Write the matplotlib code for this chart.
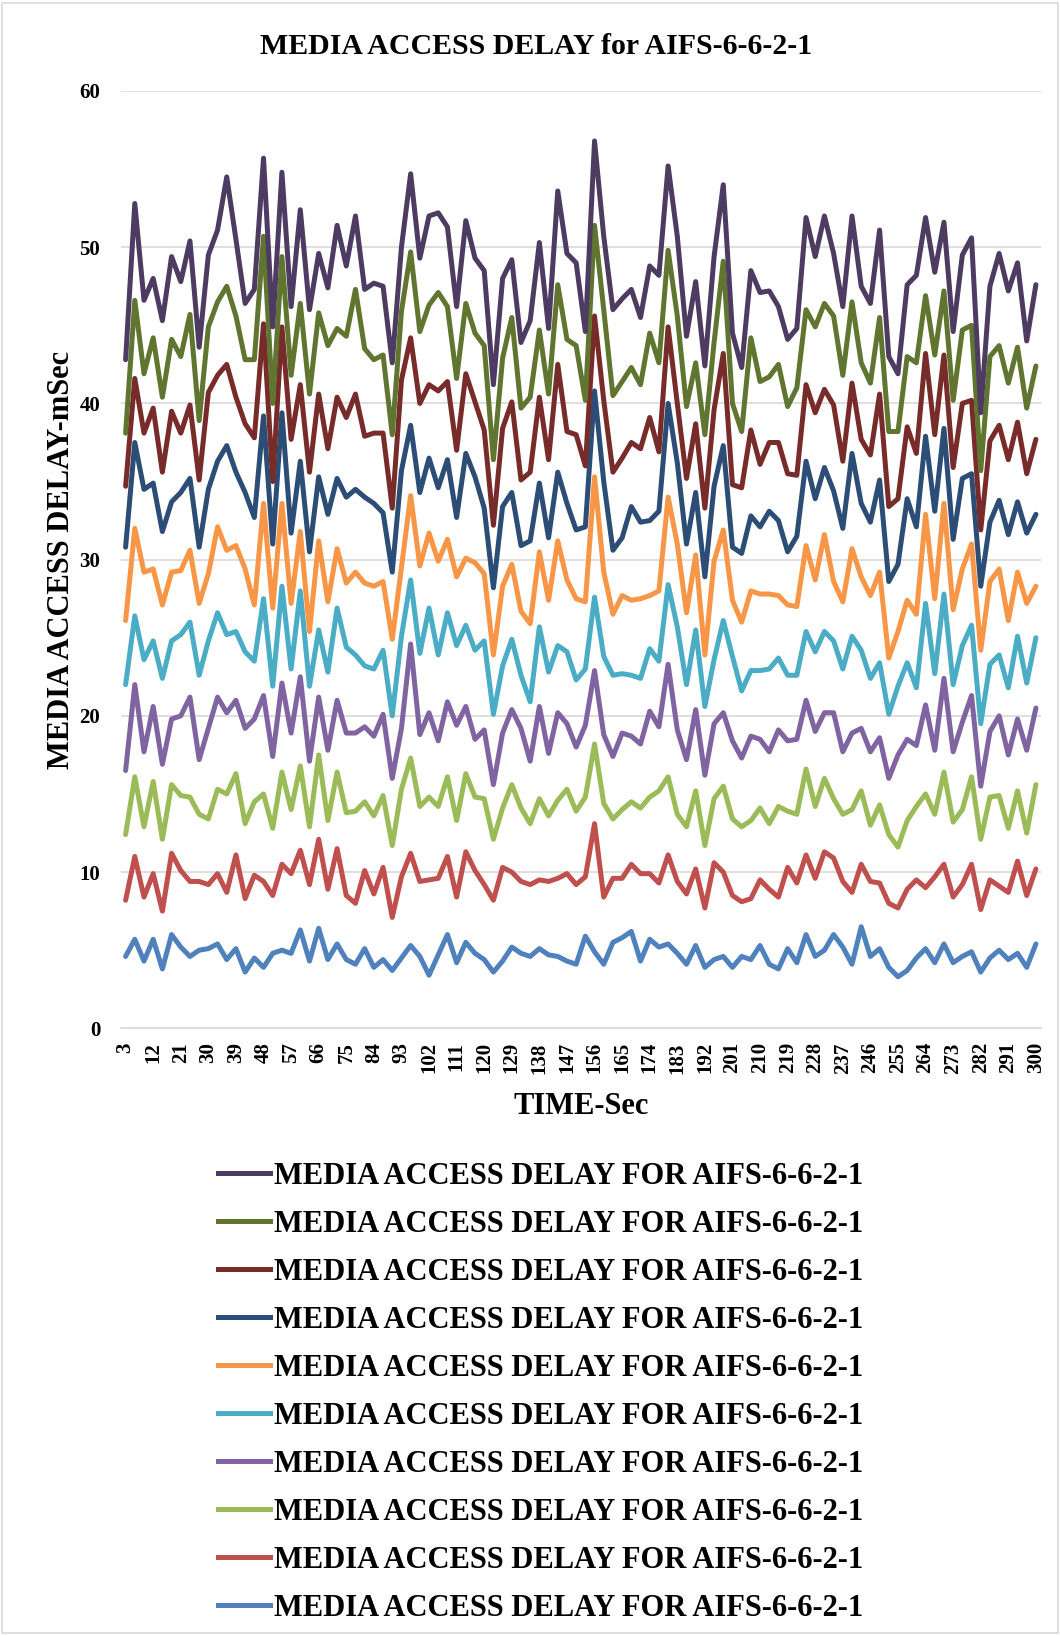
import matplotlib
matplotlib.use("Agg")
import matplotlib.pyplot as plt
from matplotlib.lines import Line2D
import numpy as np

plt.rcParams['font.family'] = ['Liberation Serif', 'DejaVu Serif']
plt.rcParams['font.weight'] = 'bold'

time_sec = list(range(3, 301, 3))
label = "MEDIA ACCESS DELAY FOR AIFS-6-6-2-1"

s_dpurple = [42.8,52.8,46.6,48.0,45.3,49.4,47.8,50.4,43.6,49.5,
 51.1,54.5,50.5,46.4,47.3,55.7,44.9,54.8,46.2,52.4,
 46.0,49.6,47.4,51.4,48.8,52.0,47.3,47.7,47.5,42.6,
 50.0,54.7,49.3,52.0,52.2,51.3,46.2,51.7,49.3,48.5,
 41.2,48.0,49.2,43.9,45.3,50.3,44.8,53.6,49.6,49.0,
 44.6,56.8,50.7,46.0,46.7,47.3,45.5,48.8,48.2,55.2,
 50.7,44.3,47.8,42.4,49.4,54.0,44.5,42.3,48.5,47.1,
 47.2,46.2,44.1,44.8,51.9,49.4,52.0,49.6,46.2,52.0,
 47.5,46.4,51.1,43.0,41.9,47.6,48.2,51.9,48.4,51.6,
 44.6,49.5,50.6,39.4,47.5,49.6,47.2,49.0,44.0,47.6]

s_olive = [38.1,46.6,41.9,44.2,40.4,44.1,43.0,45.7,38.9,44.9,
 46.5,47.5,45.6,42.8,42.8,50.7,40.0,49.4,41.8,46.4,
 40.6,45.8,43.7,44.8,44.3,47.3,43.5,42.8,43.1,38.0,
 45.9,49.7,44.6,46.3,47.1,46.2,41.6,46.4,44.5,43.7,
 36.4,42.9,45.5,39.7,40.4,44.7,40.6,47.6,44.1,43.7,
 40.2,51.4,46.0,40.5,41.4,42.3,41.2,44.5,42.6,49.8,
 45.6,39.8,42.6,38.0,43.9,49.1,40.0,38.2,44.2,41.4,
 41.7,42.5,39.8,41.0,46.0,44.9,46.4,45.6,41.8,46.5,
 42.6,41.3,45.5,38.2,38.2,43.0,42.6,46.9,43.1,47.2,
 40.2,44.7,45.0,35.7,43.0,43.7,41.3,43.6,39.7,42.4]

s_dred = [34.7,41.6,38.1,39.7,35.6,39.5,38.1,39.9,35.1,40.7,
 41.8,42.5,40.4,38.7,37.8,45.1,35.0,44.9,37.7,41.2,
 35.6,40.6,37.1,40.4,39.1,40.6,37.9,38.1,38.1,33.3,
 41.5,44.2,40.0,41.2,40.8,41.4,37.0,41.9,40.1,38.3,
 32.2,38.4,40.1,35.1,35.6,40.4,36.4,42.5,38.2,38.0,
 36.0,45.6,40.2,35.6,36.5,37.5,37.1,39.1,36.9,44.9,
 40.0,35.2,38.7,33.3,39.6,43.2,34.8,34.6,38.3,36.1,
 37.5,37.5,35.5,35.4,41.2,39.4,40.9,39.9,36.3,41.3,
 37.7,36.7,40.6,33.4,33.9,38.5,36.8,43.2,38.0,43.1,
 35.9,40.0,40.2,31.9,37.6,38.6,36.4,38.8,35.5,37.7]

s_dblue = [30.8,37.5,34.5,34.9,31.8,33.7,34.3,35.2,30.8,34.5,
 36.3,37.3,35.6,34.3,32.7,39.2,31.0,39.4,31.7,36.3,
 30.5,35.3,32.9,35.2,34.0,34.5,34.0,33.6,33.0,29.2,
 35.7,38.6,34.3,36.5,34.6,36.4,32.7,36.8,35.3,33.3,
 28.2,33.4,34.3,30.9,31.2,34.9,31.4,35.6,33.6,31.9,
 32.1,40.8,35.0,30.6,31.4,33.4,32.4,32.5,33.1,40.0,
 36.2,31.0,34.3,28.9,34.7,37.3,30.8,30.4,32.8,32.1,
 33.1,32.5,30.5,31.5,36.3,33.9,35.9,34.4,32.0,36.8,
 33.6,32.4,35.1,28.6,29.7,33.9,32.1,37.9,33.1,38.4,
 31.3,35.2,35.5,28.3,32.4,33.8,31.6,33.7,31.7,32.9]

s_orange = [26.1,32.0,29.2,29.4,27.1,29.2,29.3,30.6,27.2,29.1,
 32.1,30.6,30.9,29.4,27.1,33.6,26.9,33.6,27.2,31.8,
 25.4,31.2,27.3,30.7,28.5,29.2,28.5,28.3,28.6,24.9,
 29.5,34.1,29.6,31.7,29.9,31.3,28.9,30.1,29.8,29.1,
 23.9,28.3,29.7,26.7,25.9,30.5,27.4,31.2,28.7,27.5,
 27.3,35.3,29.2,26.5,27.7,27.4,27.5,27.7,28.0,34.0,
 31.0,26.6,30.3,23.9,29.9,31.9,27.4,26.0,28.0,27.8,
 27.8,27.7,27.1,27.0,30.9,28.7,31.6,28.6,27.3,30.7,
 28.9,27.7,29.2,23.7,25.4,27.4,26.5,32.9,27.5,33.6,
 26.8,29.4,31.0,24.2,28.6,29.4,26.1,29.2,27.2,28.3]

s_teal = [22.0,26.4,23.6,24.8,22.4,24.8,25.2,26.0,22.6,24.8,
 26.6,25.2,25.4,24.1,23.5,27.5,21.9,28.3,23.0,28.0,
 21.9,25.5,22.8,26.9,24.4,23.9,23.2,23.0,24.2,20.0,
 25.1,28.7,24.0,26.9,23.9,26.6,24.5,25.8,24.2,24.8,
 20.1,23.2,24.9,22.6,20.9,25.7,22.8,24.5,24.1,22.3,
 23.0,27.6,23.8,22.6,22.7,22.6,22.4,24.3,23.5,28.4,
 25.7,22.0,25.5,20.6,23.6,26.1,23.8,21.6,22.9,22.9,
 23.0,23.7,22.6,22.6,25.4,24.1,25.4,24.8,23.0,25.1,
 24.2,22.4,23.4,20.1,21.9,23.4,21.8,27.2,22.7,27.8,
 22.0,24.5,25.8,19.5,23.3,23.9,21.8,25.1,22.1,25.0]

s_purple = [16.5,22.0,17.7,20.6,16.9,19.8,20.0,21.2,17.2,19.2,
 21.2,20.2,21.0,19.2,19.8,21.3,17.4,22.1,18.9,22.5,
 17.1,21.2,17.8,21.0,18.9,18.9,19.3,18.7,20.1,16.0,
 19.2,24.6,18.8,20.2,18.4,20.9,19.4,20.6,18.5,19.1,
 15.6,18.9,20.4,19.2,17.1,20.6,17.6,20.2,19.5,18.0,
 19.4,22.9,18.8,17.4,18.9,18.7,18.2,20.3,19.3,23.3,
 19.1,17.2,20.4,16.2,19.5,20.2,18.4,17.3,18.7,18.5,
 17.7,19.1,18.4,18.5,21.0,19.0,20.2,20.2,17.7,18.9,
 19.2,17.7,18.6,16.0,17.5,18.5,18.1,20.7,17.8,22.4,
 17.7,19.6,21.3,15.5,19.0,20.0,17.5,19.8,17.8,20.5]

s_lgreen = [12.4,16.1,12.9,15.8,12.1,15.6,14.9,14.8,13.7,13.4,
 15.3,15.0,16.3,13.1,14.5,15.0,12.8,16.4,14.0,16.8,
 12.9,17.5,13.3,16.4,13.8,13.9,14.5,13.6,14.9,11.7,
 15.3,17.3,14.2,14.8,14.2,16.1,13.3,16.3,14.8,14.7,
 12.1,14.1,15.6,14.1,13.1,14.7,13.6,14.6,15.3,13.9,
 14.8,18.2,14.4,13.4,14.0,14.5,14.1,14.8,15.2,16.1,
 13.7,12.9,15.2,11.7,14.7,15.5,13.4,12.9,13.3,14.1,
 13.1,14.2,13.9,13.7,16.6,14.2,16.0,14.7,13.7,14.0,
 15.2,13.0,14.3,12.4,11.6,13.3,14.2,15.0,13.7,16.4,
 13.2,14.0,16.1,12.1,14.8,14.9,12.8,15.2,12.5,15.6]

s_red = [8.2,11.0,8.4,9.9,7.5,11.2,10.1,9.4,9.4,9.2,
 9.9,8.7,11.1,8.3,9.8,9.4,8.5,10.5,9.9,11.4,
 9.2,12.1,8.9,11.5,8.5,8.0,10.1,8.6,10.3,7.1,
 9.7,11.2,9.4,9.5,9.6,11.0,8.4,11.3,10.1,9.2,
 8.2,10.3,10.0,9.4,9.2,9.5,9.4,9.6,9.9,9.2,
 9.7,13.1,8.4,9.6,9.6,10.5,9.9,9.9,9.3,11.1,
 9.4,8.6,10.2,7.7,10.6,10.0,8.5,8.1,8.3,9.5,
 8.9,8.4,10.3,9.3,11.1,9.6,11.3,10.9,9.4,8.7,
 10.5,9.4,9.3,8.0,7.7,8.9,9.5,9.0,9.7,10.5,
 8.4,9.2,10.5,7.6,9.5,9.1,8.7,10.7,8.5,10.2]

s_blue = [4.6,5.7,4.3,5.7,3.8,6.0,5.2,4.6,5.0,5.1,
 5.4,4.4,5.1,3.6,4.5,3.9,4.8,5.0,4.8,6.3,
 4.3,6.4,4.4,5.4,4.4,4.1,5.1,3.9,4.4,3.7,
 4.5,5.3,4.6,3.4,4.7,6.0,4.2,5.5,4.8,4.4,
 3.6,4.3,5.2,4.8,4.6,5.1,4.7,4.6,4.3,4.1,
 5.9,4.9,4.1,5.5,5.8,6.2,4.3,5.7,5.2,5.4,
 4.8,4.1,5.3,3.9,4.4,4.6,3.9,4.6,4.4,5.3,
 4.1,3.8,5.1,4.2,6.0,4.6,5.0,6.0,5.2,4.1,
 6.5,4.6,5.1,3.9,3.3,3.7,4.5,5.1,4.2,5.4,
 4.2,4.6,4.9,3.6,4.5,5.0,4.4,4.8,3.9,5.4]

# drawing order (first drawn first); legend shows reverse order
series = [s_blue, s_red, s_lgreen, s_purple, s_teal, s_orange,
          s_dblue, s_dred, s_olive, s_dpurple]
colors = ['#4F81BD', '#C0504D', '#9BBB59', '#8064A2', '#4BACC6', '#F79646',
          '#2C4D75', '#772C2A', '#5F7530', '#4D3B62']

W, H = 1060, 1636
fig = plt.figure(figsize=(W/100, H/100), dpi=100)
ax = fig.add_axes([121/W, 1 - 1028.3/H, 919.5/W, (1028.3 - 91)/H])

xpos = np.arange(len(time_sec))
for s, c in zip(series, colors):
    ax.plot(xpos, s, color=c, lw=3.6, solid_joinstyle='round', solid_capstyle='round', zorder=3)

ax.set_xlim(-0.5, len(time_sec) - 0.5)
ax.set_ylim(0, 60)
ax.set_yticks(range(0, 61, 10))
ax.yaxis.grid(True, color='#D9D9D9', lw=1.2)
ax.set_axisbelow(True)
for sp in ['top', 'right', 'left']:
    ax.spines[sp].set_visible(False)
ax.spines['bottom'].set_color('#D9D9D9')
ax.spines['bottom'].set_linewidth(1.2)

ax.set_xticks(xpos[::3])
ax.set_xticklabels([str(t) for t in time_sec[::3]], rotation=90, fontsize=15, fontweight='bold')
ax.tick_params(axis='x', length=0, pad=10)
ax.tick_params(axis='y', length=0, pad=15, labelsize=15)
for t in ax.get_yticklabels():
    t.set_fontweight('bold')

ax.set_xlabel('TIME-Sec', fontsize=22, fontweight='bold', labelpad=13)
ax.set_ylabel('MEDIA ACCESS DELAY-mSec', fontsize=22, fontweight='bold', labelpad=2.5)
fig.text(536/W, 1 - 46/H, 'MEDIA ACCESS DELAY for AIFS-6-6-2-1', ha='center', va='center',
         fontsize=21.5, fontweight='bold')

leg_handles = [Line2D([0], [0], color=c, lw=3.6) for c in colors[::-1]]
fig.legend(leg_handles, [label]*10, loc='upper left', bbox_to_anchor=(218/W, 1 - 1162/H),
           frameon=False, handlelength=1.7, handletextpad=0.13,
           labelspacing=0.62, borderpad=0, borderaxespad=0,
           prop={'family': 'Liberation Serif', 'weight': 'bold', 'size': 22})

fig.patches.append(plt.Rectangle((0.002, 0.002), 0.996, 0.996, transform=fig.transFigure,
                                 fill=False, edgecolor='#D9D9D9', lw=1.2))
fig.savefig('out.png', dpi=100)
